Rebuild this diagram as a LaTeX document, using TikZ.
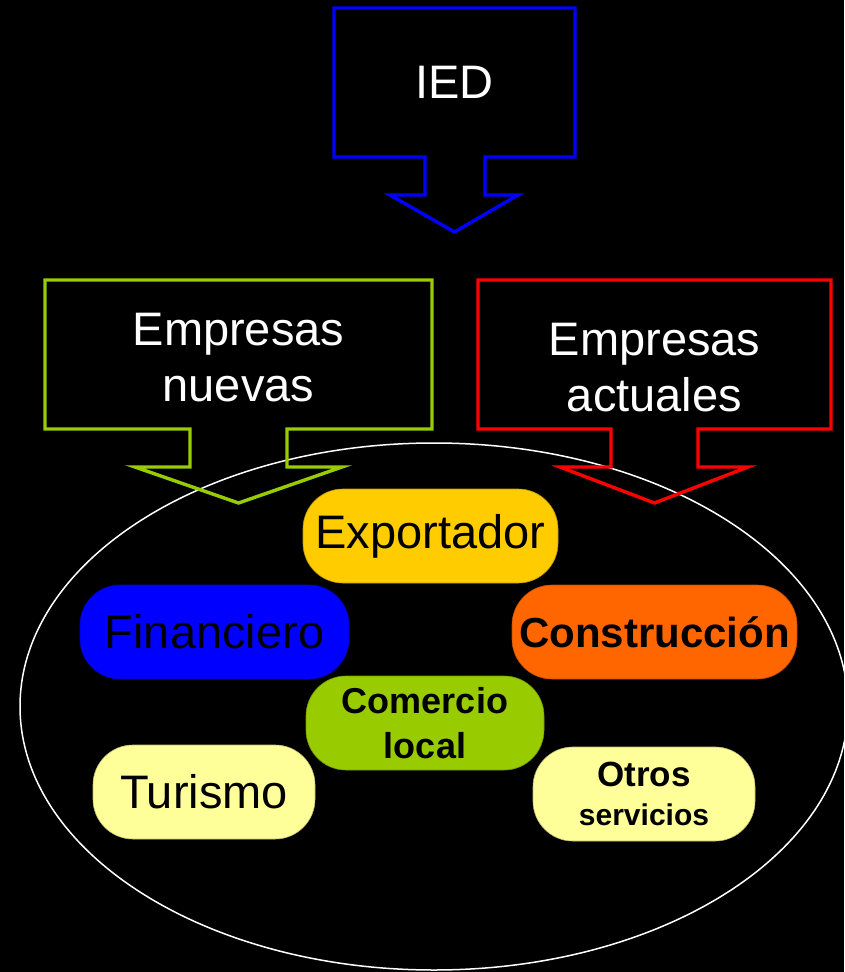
\documentclass[tikz,border=0pt]{standalone}
\usepackage{fontspec}
\setmainfont{Liberation Sans}
\definecolor{cblue}{RGB}{0,0,255}
\definecolor{cgreen}{RGB}{153,204,0}
\definecolor{cred}{RGB}{255,0,0}
\definecolor{cyel}{RGB}{255,204,0}
\definecolor{corange}{RGB}{255,102,0}
\definecolor{clight}{RGB}{255,255,153}
\begin{document}
\begin{tikzpicture}[x=1pt,y=-1pt,
  callout/.style={line width=3.4pt, line join=miter},
  lbl/.style={text=white, align=center, inner sep=0pt, font=\fontsize{47}{56}\selectfont},
  pill/.style={rounded corners=40pt, draw=#1!75!black, fill=#1, line width=0.6pt,
     inner sep=0pt, align=center, text=black, minimum height=94pt},
  ]
\fill[black] (0,0) rectangle (844,972);
\useasboundingbox (0,0) rectangle (844,972);
% ellipse
\draw[white, line width=1.5pt] (434,706.5) ellipse [x radius=414pt, y radius=263.5pt];
% callouts
\draw[callout, cblue] (334,8) -- (575,8) -- (575,157) -- (485,157) -- (485,195) -- (518,195) -- (454.5,232) -- (390,195) -- (425,195) -- (425,157) -- (334,157) -- cycle;
\draw[callout, cgreen] (45,280) -- (432,280) -- (432,429) -- (287,429) -- (287,467) -- (342,467) -- (238.5,503) -- (135,467) -- (190,467) -- (190,429) -- (45,429) -- cycle;
\draw[callout, cred] (478,280) -- (831,280) -- (831,429) -- (698,429) -- (698,467) -- (748,467) -- (654.5,503) -- (560,467) -- (611,467) -- (611,429) -- (478,429) -- cycle;
\node[lbl] (ied) at (454.5,82) {IED};
\node[lbl] (nuevas) at (238.5,358) {Empresas\\nuevas};
\node[lbl] (actuales) at (654.5,368) {Empresas\\actuales};
% sector boxes
\node[pill=cyel, minimum width=255pt, font=\fontsize{47}{56}\selectfont] (exp) at (430.5,536) {Exportador};
\node[pill=cblue, minimum width=269pt, font=\fontsize{47}{56}\selectfont] (fin) at (214.5,632) {Financiero};
\node[pill=corange, minimum width=285pt, font=\bfseries\fontsize{42}{50}\selectfont] (con) at (654.5,632) {Construcción};
\node[pill=cgreen, minimum width=238pt, font=\bfseries\fontsize{36}{45}\selectfont] (com) at (425,723) {Comercio\\local};
\node[pill=clight, minimum width=222pt, font=\fontsize{47}{56}\selectfont] (tur) at (204,792) {Turismo};
\node[pill=clight, minimum width=222pt, font=\bfseries\fontsize{30}{39}\selectfont] (otr) at (644,794) {{\fontsize{35}{39}\selectfont Otros}\\servicios};
\end{tikzpicture}
\end{document}
